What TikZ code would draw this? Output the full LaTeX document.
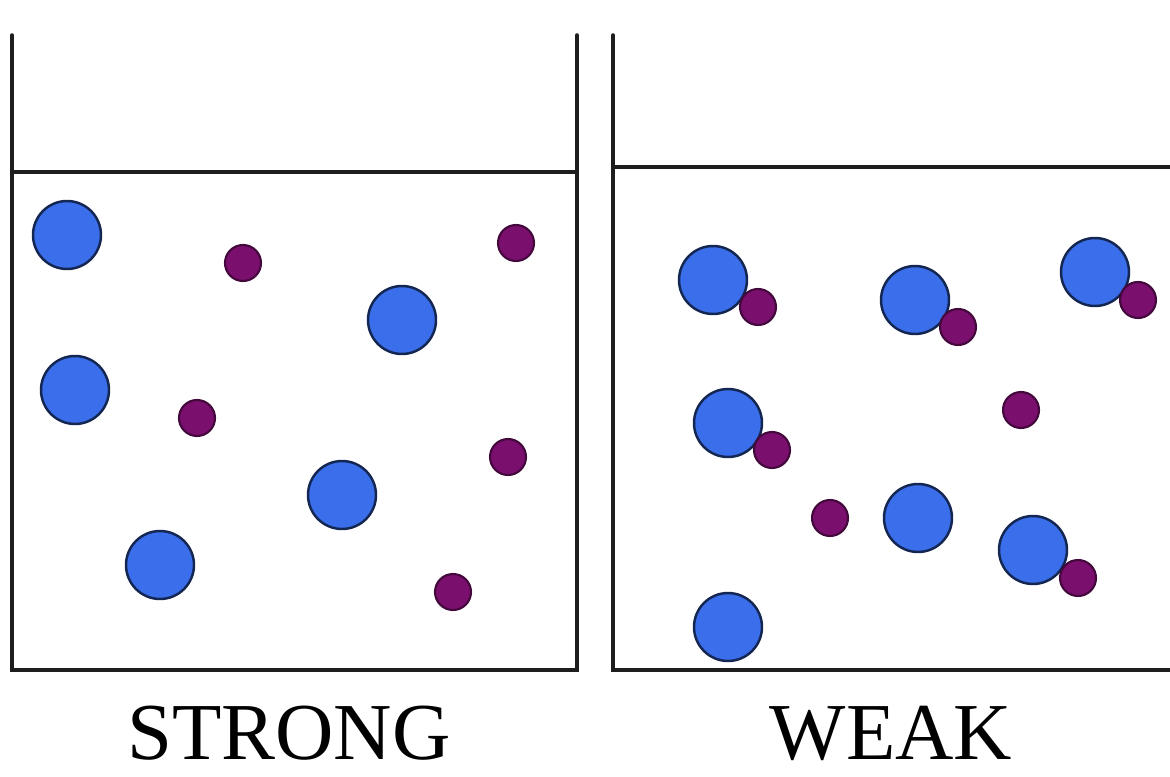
\documentclass[tikz,border=0pt]{standalone}
\usepackage{fontspec}
\setmainfont{Liberation Serif}
\usepackage{xcolor}
\definecolor{ionblue}{HTML}{3A6EEA}
\definecolor{ionpurple}{HTML}{7A0F6E}
\definecolor{wall}{HTML}{1E1E1E}
\usepackage{tikz}
\tikzset{%
    beaker/.style={%
        draw=wall, line width=2pt, line cap=round,
    },
    cation/.style={%
        circle, draw=ionblue!35!black, line width=1.4pt, fill=ionblue,
        minimum size=1.36cm, inner sep=0,
    },
    anion/.style={%
        circle, draw=ionpurple!55!black, line width=1.2pt, fill=ionpurple,
        minimum size=0.72cm, inner sep=0,
    },
    caption/.style={%
        anchor=base, font=\fontsize{46}{50}\selectfont, inner sep=0,
    },
}
\begin{document}
\begin{tikzpicture}[x=0.02cm, y=-0.02cm]
    \useasboundingbox (0,0) rectangle (1170,777);

    % strong electrolyte
    \draw[beaker] (12,35) -- (12,670) -- (577,670) -- (577,35);
    \draw[beaker] (12,172) -- (577,172);

    \node[cation] (s1) at (67,235) {};
    \node[cation] (s2) at (75,390) {};
    \node[cation] (s3) at (402,320) {};
    \node[cation] (s4) at (342,495) {};
    \node[cation] (s5) at (160,565) {};
    \node[anion] (t1) at (243,263) {};
    \node[anion] (t2) at (516,243) {};
    \node[anion] (t3) at (197,418) {};
    \node[anion] (t4) at (508,457) {};
    \node[anion] (t5) at (453,592) {};

    % weak electrolyte
    \draw[beaker] (613,35) -- (613,670) -- (1170,670);
    \draw[beaker] (613,167) -- (1170,167);

    \node[cation] (w1) at (713,280) {};
    \node[anion] (v1) at (758,307) {};
    \node[cation] (w2) at (915,300) {};
    \node[anion] (v2) at (958,327) {};
    \node[cation] (w3) at (1095,272) {};
    \node[anion] (v3) at (1138,300) {};
    \node[cation] (w4) at (728,423) {};
    \node[anion] (v4) at (772,450) {};
    \node[anion] (v5) at (1021,410) {};
    \node[anion] (v6) at (830,518) {};
    \node[cation] (w5) at (918,518) {};
    \node[cation] (w6) at (1033,550) {};
    \node[anion] (v7) at (1078,578) {};
    \node[cation] (w7) at (728,627) {};

    \node[caption] (strong) at (289,759) {STRONG};
    \node[caption] (weak) at (891,759) {WEAK};
\end{tikzpicture}
\end{document}
